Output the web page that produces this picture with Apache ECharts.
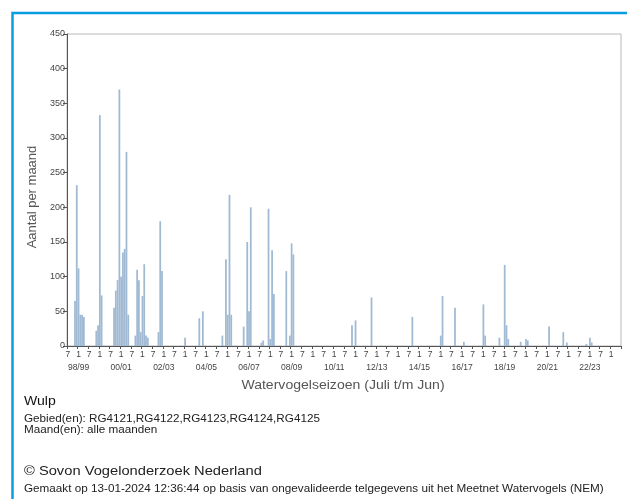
<!DOCTYPE html>
<html><head><meta charset="utf-8">
<script src="https://cdn.jsdelivr.net/npm/echarts@6/dist/echarts.min.js"></script>
<style>html,body{margin:0;padding:0;background:#fff}#c{width:627px;height:499px}</style>
</head><body><div id="c"></div>
<script>
// Seasons (July - June)
const seasons = ['98/99','99/00','00/01','01/02','02/03','03/04','04/05','05/06','06/07','07/08','08/09','09/10','10/11','11/12','12/13','13/14','14/15','15/16','16/17','17/18','18/19','19/20','20/21','21/22','22/23','23/24'];
const seasonMonths = [7,8,9,10,11,12,1,2,3,4,5,6];
const yTicks = [0,50,100,150,200,250,300,350,400,450];
// Monthly counts per season: Jul Aug Sep Oct Nov Dec Jan Feb Mar Apr May Jun
const s9899 = [0,0,0,0,65,232,112,45,45,42,0,0];
const s9900 = [0,0,0,0,22,30,333,73,0,0,0,0];
const s0001 = [0,0,55,80,95,370,100,135,140,280,45,0];
const s0102 = [0,0,15,110,95,20,72,118,15,12,0,0];
const s0203 = [0,0,0,20,180,108,0,0,0,0,0,0];
const s0304 = [0,0,0,0,0,0,12,0,0,0,0,0];
const s0405 = [0,0,40,0,50,0,0,0,0,0,0,0];
const s0506 = [0,0,0,15,0,125,45,218,45,0,0,0];
const s0607 = [0,0,0,28,0,150,50,200,0,0,0,0];
const s0708 = [0,5,8,0,0,198,10,138,75,0,0,0];
const s0809 = [0,0,0,108,0,15,148,132,0,0,0,0];
const s0910 = [0,0,0,0,0,0,0,0,0,0,0,0];
const s1011 = [0,0,0,0,0,0,0,0,0,0,0,0];
const s1112 = [0,0,0,0,30,0,37,0,0,0,0,0];
const s1213 = [0,0,0,70,0,0,0,0,0,0,0,0];
const s1314 = [0,0,0,0,0,0,0,0,0,0,0,0];
const s1415 = [0,0,42,0,0,0,0,0,0,0,0,0];
const s1516 = [0,0,0,0,0,0,15,72,0,0,0,0];
const s1617 = [0,0,55,0,0,0,0,6,0,0,0,0];
const s1718 = [0,0,0,0,0,0,60,15,0,0,0,0];
const s1819 = [0,0,0,12,0,0,117,30,10,0,0,0];
const s1920 = [0,0,0,6,0,0,10,8,0,0,0,0];
const s2021 = [0,0,0,0,0,0,0,28,0,0,0,0];
const s2122 = [0,0,0,20,0,5,0,0,0,0,0,0];
const s2223 = [0,0,0,0,3,0,12,5,0,0,0,0];
const s2324 = [0,0,0,0,0,0,0,0,0,0,0,0];

const allSeasons = [s9899,s9900,s0001,s0102,s0203,s0304,s0405,s0506,s0607,s0708,s0809,s0910,s1011,s1112,s1213,s1314,s1415,s1516,s1617,s1718,s1819,s1920,s2021,s2122,s2223,s2324];
const categories = [];
const values = [];
allSeasons.forEach((arr, s) => {
  arr.forEach((v, m) => {
    categories.push(seasons[s] + '-' + seasonMonths[m]);
    values.push(v);
  });
});

const FONT = 'Liberation Sans, Arial, sans-serif';
const SX = 1.17;
const chart = echarts.init(document.getElementById('c'), null, {renderer: 'canvas'});
chart.setOption({
  backgroundColor: '#fff',
  animation: false,
  grid: {left: 67, right: 6, top: 34, bottom: 153, show: true, borderColor: '#b8b8b8', borderWidth: 1, containLabel: false},
  xAxis: [{
    type: 'category', data: categories, position: 'bottom',
    axisLine: {lineStyle: {color: '#555', width: 1}},
    axisTick: {show: true, interval: (i) => i % 6 === 0, length: 3, lineStyle: {color: '#555'}},
    axisLabel: {interval: (i) => i % 6 === 0, margin: 4, fontSize: 8.5, color: '#444', fontFamily: FONT,
      formatter: (v) => v.split('-')[1]},
    splitLine: {show: false}
  }, {
    type: 'category', data: categories, position: 'bottom', offset: 13,
    axisLine: {show: false}, axisTick: {show: false},
    axisLabel: {interval: (i) => i % 24 === 6, margin: 4, fontSize: 8.5, color: '#444', fontFamily: FONT,
      formatter: (v) => v.split('-')[0]},
    splitLine: {show: false}
  }],
  yAxis: {
    type: 'value', min: yTicks[0], max: yTicks[yTicks.length - 1], interval: 50,
    axisLine: {show: true, lineStyle: {color: '#555'}},
    axisTick: {show: true, length: 4, lineStyle: {color: '#555'}},
    axisLabel: {fontSize: 9, color: '#444', margin: 2, fontFamily: FONT},
    splitLine: {show: false}
  },
  series: [{
    type: 'bar', data: values, xAxisIndex: 0, barCategoryGap: '0%',
    itemStyle: {color: '#a0bad4'}, silent: true
  }],
  graphic: [
    {type: 'rect', shape: {x: 12.5, y: 13, width: 700, height: 600}, style: {fill: 'none', stroke: '#0b9de2', lineWidth: 2.5}, silent: true},
    {type: 'text', x: 32, y: 197, rotation: Math.PI / 2, style: {text: 'Aantal per maand', fontSize: 13, fill: '#555', fontFamily: FONT, textAlign: 'center', textVerticalAlign: 'middle'}},
    {type: 'text', x: 343, y: 386, scaleX: SX, style: {text: 'Watervogelseizoen (Juli t/m Jun)', fontSize: 12, fill: '#555', fontFamily: FONT, textAlign: 'center', textVerticalAlign: 'middle'}},
    {type: 'text', x: 24, y: 402, scaleX: SX, style: {text: 'Wulp', fontSize: 12, fill: '#111', fontFamily: FONT, textVerticalAlign: 'middle'}},
    {type: 'text', x: 24, y: 419, scaleX: SX, style: {text: 'Gebied(en): RG4121,RG4122,RG4123,RG4124,RG4125', fontSize: 10, fill: '#222', fontFamily: FONT, textVerticalAlign: 'middle'}},
    {type: 'text', x: 24, y: 430, scaleX: SX, style: {text: 'Maand(en): alle maanden', fontSize: 10, fill: '#222', fontFamily: FONT, textVerticalAlign: 'middle'}},
    {type: 'text', x: 24, y: 471, scaleX: 1.13, style: {text: '\u00a9 Sovon Vogelonderzoek Nederland', fontSize: 13, fill: '#222', fontFamily: FONT, textVerticalAlign: 'middle'}},
    {type: 'text', x: 24, y: 489, scaleX: SX, style: {text: 'Gemaakt op 13-01-2024 12:36:44 op basis van ongevalideerde telgegevens uit het Meetnet Watervogels (NEM)', fontSize: 10, fill: '#222', fontFamily: FONT, textVerticalAlign: 'middle'}}
  ]
});
</script></body></html>
